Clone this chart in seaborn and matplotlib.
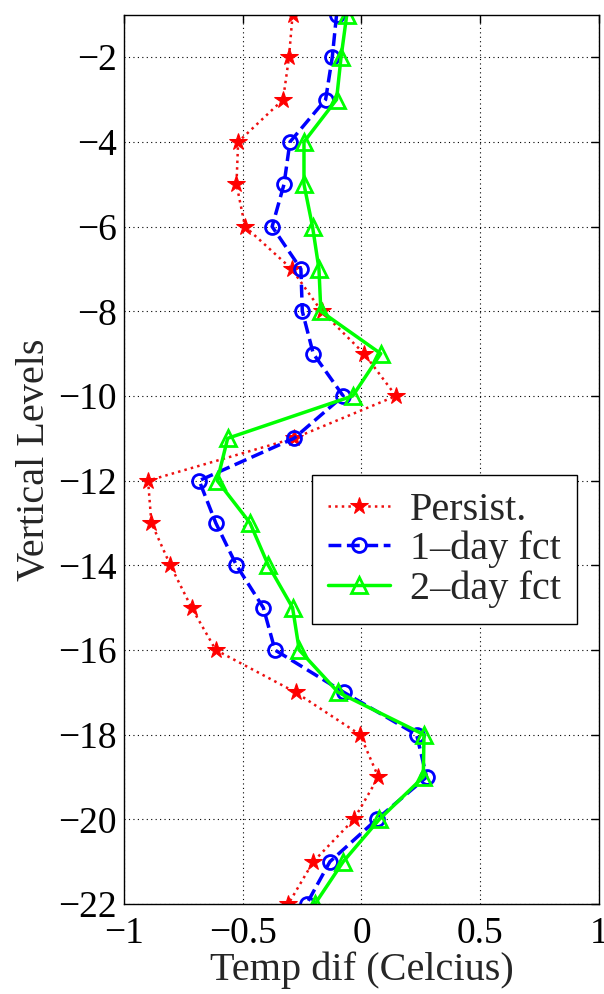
import matplotlib
matplotlib.use("Agg")
import matplotlib.pyplot as plt
import seaborn as sns
import numpy as np

levels = [-1, -2, -3, -4, -5, -6, -7, -8, -9, -10, -11, -12, -13, -14, -15, -16, -17, -18, -19, -20, -21, -22]
persist = [-0.29, -0.305, -0.33, -0.519, -0.526, -0.49, -0.294, -0.168, 0.011, 0.145, -0.284,
           -0.898, -0.884, -0.804, -0.715, -0.613, -0.277, -0.006, 0.071, -0.032, -0.203, -0.308]
fct1 = [-0.105, -0.123, -0.151, -0.301, -0.326, -0.376, -0.255, -0.249, -0.203, -0.077, -0.284,
        -0.683, -0.613, -0.526, -0.413, -0.364, -0.074, 0.232, 0.274, 0.064, -0.133, -0.231]
fct2 = [-0.062, -0.086, -0.105, -0.242, -0.242, -0.206, -0.179, -0.171, 0.081, -0.037, -0.563,
        -0.607, -0.469, -0.392, -0.29, -0.262, -0.098, 0.263, 0.26, 0.075, -0.077, -0.196]
labels = ["Persist.", "1\u2013day fct", "2\u2013day fct"]
xticks = [-1, -0.5, 0, 0.5, 1]
yticks = [-22, -20, -18, -16, -14, -12, -10, -8, -6, -4, -2]

sns.set_style("white")
plt.rcParams['font.family'] = ['Liberation Serif', 'DejaVu Serif']
plt.rcParams['axes.unicode_minus'] = True

fig = plt.figure(figsize=(6.04, 9.94), dpi=100)
ax = fig.add_axes([0.205, 0.0905, 0.787, 0.8945])

sns.lineplot(x=persist, y=levels, sort=False, estimator=None, ax=ax, color='#ee1010',
             linestyle=':', linewidth=1.8, marker='*', markersize=13, markeredgecolor='#ff0000',
             markerfacecolor='#ff0000', label=labels[0])
sns.lineplot(x=fct1, y=levels, sort=False, estimator=None, ax=ax, color='#0000ff',
             linestyle='--', linewidth=2.5, dashes=(4, 2.5), marker='o', markersize=10,
             markerfacecolor='none', markeredgecolor='#0000ff', markeredgewidth=2, label=labels[1])
sns.lineplot(x=fct2, y=levels, sort=False, estimator=None, ax=ax, color='#00ff00',
             linestyle='-', linewidth=2.5, marker='^', markersize=12,
             markerfacecolor='none', markeredgecolor='#00ff00', markeredgewidth=2, label=labels[2])

ax.set_xlim(-1, 1)
ax.set_ylim(-22, -1)
ax.set_xticks(xticks)
ax.set_xticklabels(["\u22121", "\u22120.5", "0", "0.5", "1"])
ax.set_yticks(yticks)
ax.set_yticklabels(["\u2212%d" % abs(v) for v in yticks])
ax.grid(True, color='black', linestyle=(0, (1, 3)), linewidth=0.8)
ax.tick_params(direction='in', length=6, width=1, labelsize=27, top=True, right=True,
               colors='black', pad=5)
ax.tick_params(axis='x', pad=9)
for s in ax.spines.values():
    s.set_color('black')
    s.set_linewidth(1)
    s.set_visible(True)
ax.set_xlabel("Temp dif (Celcius)", fontsize=29, labelpad=0)
ax.set_ylabel("Vertical Levels", fontsize=29, labelpad=4)

leg = ax.legend(loc='upper left', bbox_to_anchor=(0.395, 0.482), fontsize=29,
                frameon=True, fancybox=False, edgecolor='black', framealpha=1,
                handlelength=1.55, borderpad=0.4, labelspacing=0.05, handletextpad=0.5,
                borderaxespad=0)
leg.get_frame().set_linewidth(1)

fig.savefig("out.png", dpi=100)
